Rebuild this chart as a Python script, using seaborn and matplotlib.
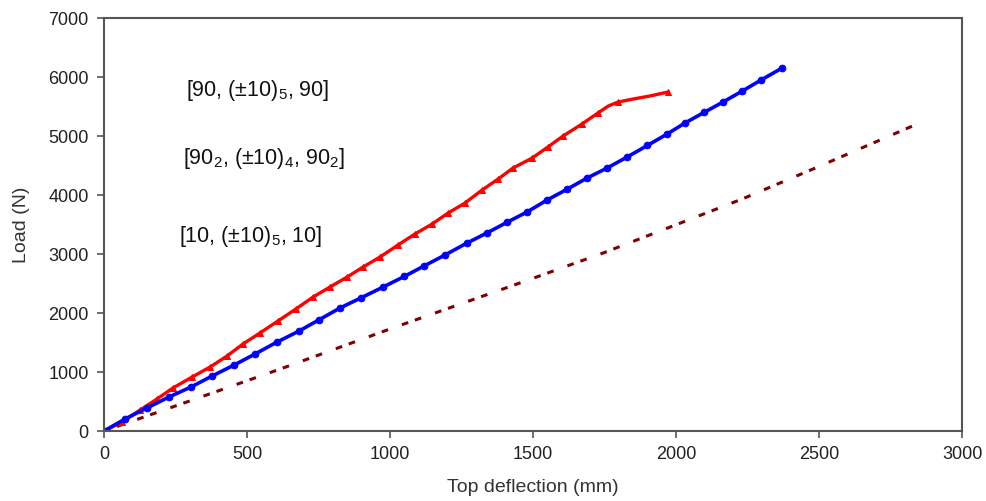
import numpy as np
import pandas as pd
import matplotlib
matplotlib.use("Agg")
import matplotlib.pyplot as plt
import seaborn as sns

# ---- data ----
red_x = [0, 63, 126, 185, 241, 308, 371, 430, 486, 545, 608, 670, 731, 790, 850, 906,
         965, 1028, 1087, 1147, 1203, 1262, 1322, 1378, 1430, 1497, 1552, 1605, 1671,
         1727, 1762, 1797, 1850, 1910, 1972]
red_y = [0, 153, 356, 542, 729, 915, 1085, 1271, 1475, 1661, 1864, 2065, 2271, 2441,
         2610, 2780, 2949, 3153, 3339, 3508, 3695, 3864, 4085, 4271, 4458, 4627, 4814,
         5000, 5203, 5390, 5505, 5576, 5627, 5680, 5746]

blue_x = [0, 73, 150, 227, 304, 378, 455, 528, 605, 680, 750, 825, 900, 976, 1050,
          1120, 1192, 1269, 1340, 1410, 1479, 1549, 1620, 1689, 1760, 1829, 1900, 1969,
          2031, 2098, 2164, 2231, 2297, 2371]
blue_y = [0, 203, 390, 576, 746, 932, 1119, 1305, 1508, 1690, 1880, 2085, 2260, 2441,
          2620, 2800, 2983, 3186, 3360, 3540, 3712, 3915, 4100, 4288, 4460, 4644, 4840,
          5034, 5220, 5400, 5576, 5760, 5949, 6153]

dash_x = [0, 300, 626, 1000, 1483, 1745, 2000, 2231, 2371, 2479, 2846]
dash_y = [0, 510, 1068, 1730, 2559, 3017, 3496, 3932, 4220, 4441, 5210]

labels = ["[90, (\u00b110)$_5$, 90]",
          "[90$_2$, (\u00b110)$_4$, 90$_2$]",
          "[10, (\u00b110)$_5$, 10]"]
label_x = [287, 276, 262]
label_y = [5780, 4627, 3305]

x_ticks = [0, 500, 1000, 1500, 2000, 2500, 3000]
y_ticks = [0, 1000, 2000, 3000, 4000, 5000, 6000, 7000]

# ---- style ----
sns.set_style("white")
plt.rcParams['font.family'] = ['Liberation Sans', 'DejaVu Sans']
plt.rcParams['mathtext.fontset'] = 'custom'
plt.rcParams['mathtext.rm'] = 'Liberation Sans'
plt.rcParams['mathtext.it'] = 'Liberation Sans:italic'
plt.rcParams['mathtext.bf'] = 'Liberation Sans:bold'

fig = plt.figure(figsize=(9.86, 5.01), dpi=100)
ax = fig.add_axes([0.1055, 0.1397, 0.9757 - 0.1055, 0.964 - 0.1397])

df_d = pd.DataFrame({"x": dash_x, "y": dash_y})
df_r = pd.DataFrame({"x": red_x, "y": red_y})
df_b = pd.DataFrame({"x": blue_x, "y": blue_y})

sns.lineplot(data=df_d, x="x", y="y", ax=ax, sort=False, estimator=None,
             color="#800000", lw=2.2)
ax.lines[-1].set_dashes((2.2, 2.3, 2.2, 4.8))

red_marks = [i for i, v in enumerate(red_x) if v not in (1762, 1850, 1910)]
sns.lineplot(data=df_r, x="x", y="y", ax=ax, sort=False, estimator=None,
             color="#ff0000", lw=2.4, marker="^", markersize=4.5,
             markeredgecolor="#ff0000", markevery=red_marks)

sns.lineplot(data=df_b, x="x", y="y", ax=ax, sort=False, estimator=None,
             color="#0000ff", lw=2.6, marker="o", markersize=4.8,
             markeredgecolor="#0000ff")

for t, xx, yy in zip(labels, label_x, label_y):
    ax.text(xx, yy, t, fontsize=15.5, ha="left", va="center", color="#111111")

ax.set_xlim(0, 3000)
ax.set_ylim(0, 7000)
ax.set_xticks(x_ticks)
ax.set_yticks(y_ticks)
ax.tick_params(axis="both", labelsize=13, colors="#555555", labelcolor="#222222",
               direction="out", length=5, width=1.2, pad=6,
               bottom=True, left=True)
for s in ax.spines.values():
    s.set_visible(True)
    s.set_color("#555555")
    s.set_linewidth(1.5)

ax.set_xlabel("Top deflection (mm)", fontsize=14, color="#333333", labelpad=11)
ax.set_ylabel("Load (N)", fontsize=14, color="#333333", labelpad=13)

fig.savefig("out.png", dpi=100, facecolor="white")
